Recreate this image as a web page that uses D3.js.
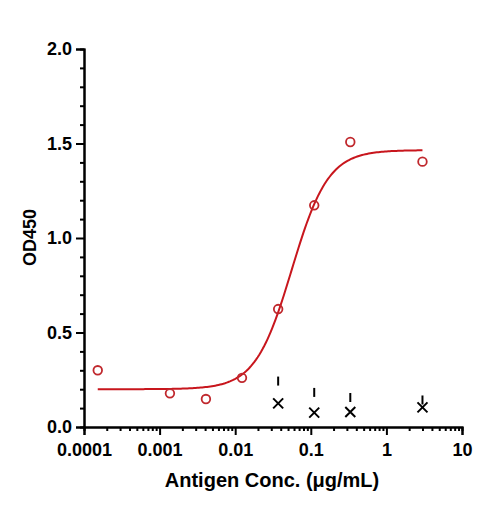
<!DOCTYPE html>
<html>
<head>
<meta charset="utf-8">
<script src="https://cdn.jsdelivr.net/npm/d3@7"></script>
<style>
  body { margin: 0; background: #fff; }
  svg { display: block; }
  text { font-family: "Liberation Sans", Arial, sans-serif; font-weight: bold; }
</style>
</head>
<body>
<svg id="chart" width="485" height="508"></svg>
<script>
// antigen series (red circles)
const antigenConc = [0.000152, 0.00137, 0.0041, 0.0123, 0.037, 0.111, 0.333, 3];
const antigenOD = [0.30, 0.178, 0.148, 0.26, 0.624, 1.173, 1.508, 1.404];

// control series (black crosses) and the short bars above them
const controlConc = [0.037, 0.111, 0.333, 3];
const controlOD = [0.125, 0.076, 0.079, 0.104];
const barOD = [0.243, 0.183, 0.156, 0.143];

// 4PL fit: bottom, top, EC50, hill
const fitParams = [0.2, 1.465, 0.056, 1.8];
const fitRange = [0.000152, 3];

const xTicks = [0.0001, 0.001, 0.01, 0.1, 1, 10];
const xTickLabels = ["0.0001", "0.001", "0.01", "0.1", "1", "10"];
const yTicks = [0, 0.5, 1.0, 1.5, 2.0];

const margin = { top: 49, right: 23, bottom: 81, left: 84 };
const width = 485, height = 508;

const svg = d3.select("#chart");

const x = d3.scaleLog()
    .domain([0.0001, 10])
    .range([margin.left, width - margin.right]);

const y = d3.scaleLinear()
    .domain([0, 2])
    .range([height - margin.bottom, margin.top]);

// minor ticks
const xMinor = [];
for (let e = -4; e < 1; e++) {
    for (let m = 2; m <= 9; m++) xMinor.push(m * Math.pow(10, e));
}
const yMinor = d3.range(0, 2.0001, 0.1).filter(v => Math.abs(v * 2 - Math.round(v * 2)) > 1e-6);

// x axis
const xAxis = svg.append("g")
    .attr("transform", `translate(0, ${y(0)})`);
xAxis.call(d3.axisBottom(x).tickValues(xMinor).tickSize(4).tickFormat(""));
xAxis.append("g").call(
    d3.axisBottom(x).tickValues(xTicks).tickSize(8).tickPadding(8)
        .tickFormat((d, i) => xTickLabels[i])
);

// y axis
const yAxis = svg.append("g")
    .attr("transform", `translate(${x(0.0001)}, 0)`);
yAxis.call(d3.axisLeft(y).tickValues(yMinor).tickSize(4).tickFormat(""));
yAxis.append("g").call(
    d3.axisLeft(y).tickValues(yTicks).tickSize(8).tickPadding(4)
        .tickFormat(d3.format(".1f"))
);

svg.selectAll(".domain").attr("stroke", "#000").attr("stroke-width", 2);
svg.selectAll(".tick line").attr("stroke", "#000").attr("stroke-width", 2);
svg.selectAll(".tick text")
    .attr("fill", "#000")
    .style("font-size", "18px")
    .style("font-weight", "bold");

// titles
svg.append("text")
    .attr("x", 272)
    .attr("y", 487)
    .attr("text-anchor", "middle")
    .style("font-size", "20px")
    .text("Antigen Conc. (μg/mL)");

svg.append("text")
    .attr("transform", `translate(36, 237.5) rotate(-90)`)
    .attr("text-anchor", "middle")
    .style("font-size", "18px")
    .text("OD450");

// fitted curve
const [fitBottom, fitTop, ec50, hill] = fitParams;
const fit = c => fitBottom + (fitTop - fitBottom) / (1 + Math.pow(ec50 / c, hill));
const l0 = Math.log10(fitRange[0]), l1 = Math.log10(fitRange[1]);
const curveConc = d3.range(200).map(i => Math.pow(10, l0 + (l1 - l0) * i / 199));

svg.append("path")
    .datum(curveConc)
    .attr("fill", "none")
    .attr("stroke", "#c8161d")
    .attr("stroke-width", 2)
    .attr("d", d3.line().x(d => x(d)).y(d => y(fit(d))));

// red circles
svg.selectAll(".pt")
    .data(antigenConc)
    .enter()
    .append("circle")
    .attr("cx", d => x(d))
    .attr("cy", (d, i) => y(antigenOD[i]))
    .attr("r", 4.3)
    .attr("fill", "none")
    .attr("stroke", "#c0282d")
    .attr("stroke-width", 1.8);

// short bars
svg.selectAll(".bar")
    .data(controlConc)
    .enter()
    .append("line")
    .attr("x1", d => x(d))
    .attr("x2", d => x(d))
    .attr("y1", (d, i) => y(barOD[i]) - 4.5)
    .attr("y2", (d, i) => y(barOD[i]) + 4.5)
    .attr("stroke", "#000")
    .attr("stroke-width", 2);

// crosses
svg.selectAll(".cross")
    .data(controlConc)
    .enter()
    .append("path")
    .attr("transform", (d, i) => `translate(${x(d)}, ${y(controlOD[i])})`)
    .attr("d", "M-5,-5L5,5M-5,5L5,-5")
    .attr("stroke", "#000")
    .attr("stroke-width", 2)
    .attr("fill", "none");
</script>
</body>
</html>
